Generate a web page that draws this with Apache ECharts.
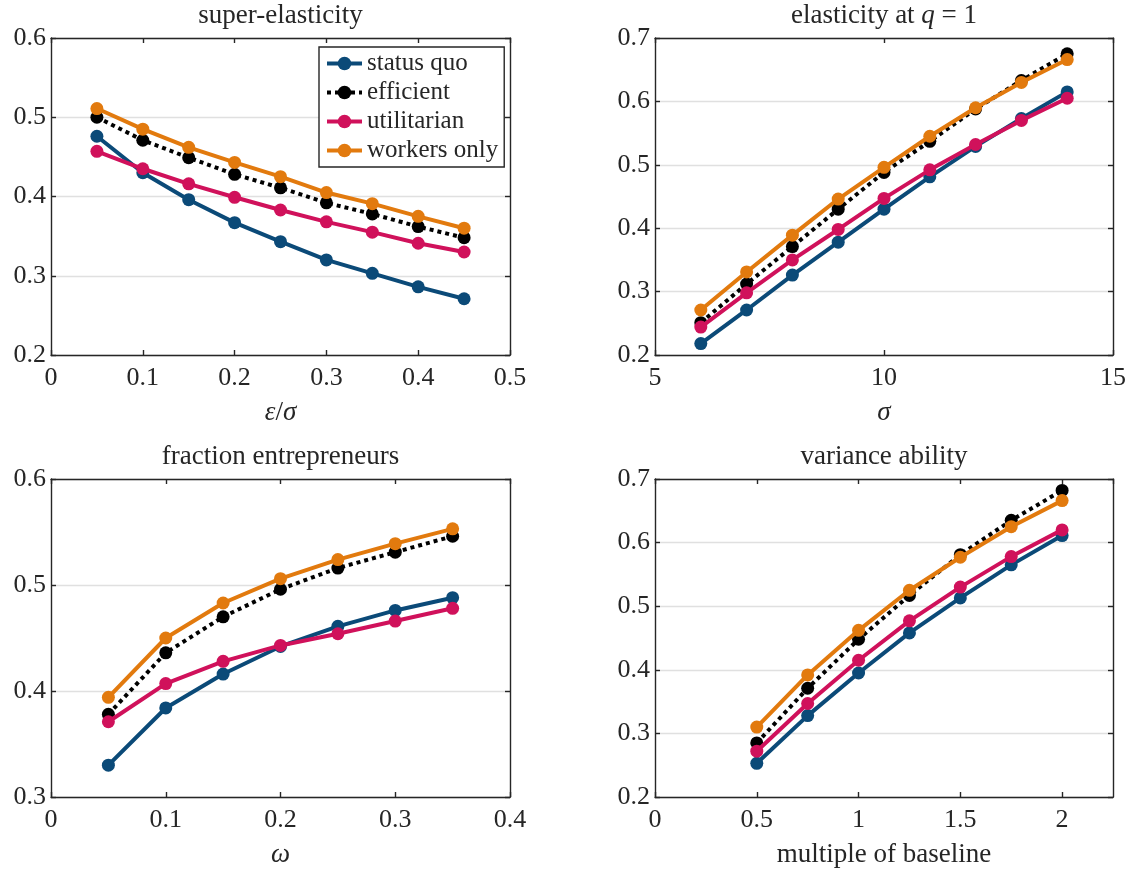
<!DOCTYPE html>
<html>
<head>
<meta charset="utf-8">
<script src="https://cdn.jsdelivr.net/npm/echarts@6/dist/echarts.min.js"></script>
<style>
  html, body { margin: 0; padding: 0; background: #fff; }
  #chart { width: 1133px; height: 871px; }
</style>
</head>
<body>
<div id="chart"></div>
<script>
// x values per panel
const epsX = [0.05, 0.1, 0.15, 0.2, 0.25, 0.3, 0.35, 0.4, 0.45]
const sigmaX = [6, 7, 8, 9, 10, 11, 12, 13, 14]
const omegaX = [0.05, 0.1, 0.15, 0.2, 0.25, 0.3, 0.35]
const multX = [0.5, 0.75, 1, 1.25, 1.5, 1.75, 2]

// super-elasticity
const superStatusQuo = [0.476, 0.430, 0.396, 0.367, 0.343, 0.320, 0.303, 0.286, 0.271]
const superEfficient = [0.500, 0.471, 0.449, 0.428, 0.411, 0.392, 0.378, 0.362, 0.348]
const superUtilitarian = [0.457, 0.435, 0.416, 0.399, 0.383, 0.368, 0.355, 0.341, 0.330]
const superWorkers = [0.511, 0.485, 0.462, 0.443, 0.425, 0.405, 0.391, 0.375, 0.360]

// elasticity at q = 1
const elastStatusQuo = [0.218, 0.271, 0.326, 0.378, 0.430, 0.481, 0.529, 0.573, 0.615]
const elastEfficient = [0.251, 0.312, 0.371, 0.430, 0.488, 0.537, 0.588, 0.633, 0.675]
const elastUtilitarian = [0.244, 0.298, 0.350, 0.398, 0.447, 0.492, 0.532, 0.570, 0.605]
const elastWorkers = [0.271, 0.331, 0.389, 0.446, 0.496, 0.545, 0.590, 0.630, 0.666]

// fraction entrepreneurs
const fracStatusQuo = [0.330, 0.384, 0.416, 0.442, 0.461, 0.476, 0.488]
const fracEfficient = [0.378, 0.436, 0.470, 0.496, 0.516, 0.531, 0.546]
const fracUtilitarian = [0.371, 0.407, 0.428, 0.443, 0.454, 0.466, 0.478]
const fracWorkers = [0.394, 0.450, 0.483, 0.506, 0.524, 0.539, 0.553]

// variance ability
const varStatusQuo = [0.253, 0.328, 0.395, 0.458, 0.513, 0.565, 0.611]
const varEfficient = [0.285, 0.371, 0.448, 0.517, 0.581, 0.635, 0.682]
const varUtilitarian = [0.272, 0.347, 0.415, 0.477, 0.530, 0.578, 0.620]
const varWorkers = [0.310, 0.392, 0.462, 0.525, 0.577, 0.625, 0.666]

const seriesNames = ['status quo', 'efficient', 'utilitarian', 'workers only']
const seriesColors = ['#0B4A78', '#000000', '#D0115B', '#E27A0E']

const FONT = 'Liberation Serif'
const INK = '#262626'
const FS = 27      // titles and axis names
const FS_TICK = 26
const FS_LEG = 25

const panels = [
  { title: 'super-elasticity', xName: '{i|ε}/{i|σ}', xMin: 0, xMax: 0.5, xInt: 0.1, yMin: 0.2, yMax: 0.6,
    x: epsX, ys: [superStatusQuo, superEfficient, superUtilitarian, superWorkers] },
  { title: '{n|elasticity at }{i|q}{n| = 1}', xName: '{i|σ}', xMin: 5, xMax: 15, xInt: 5, yMin: 0.2, yMax: 0.7,
    x: sigmaX, ys: [elastStatusQuo, elastEfficient, elastUtilitarian, elastWorkers] },
  { title: 'fraction entrepreneurs', xName: '{i|ω}', xMin: 0, xMax: 0.4, xInt: 0.1, yMin: 0.3, yMax: 0.6,
    x: omegaX, ys: [fracStatusQuo, fracEfficient, fracUtilitarian, fracWorkers] },
  { title: 'variance ability', xName: 'multiple of baseline', xMin: 0, xMax: 2.25, xInt: 0.5, yMin: 0.2, yMax: 0.7,
    x: multX, ys: [varStatusQuo, varEfficient, varUtilitarian, varWorkers] },
]

const grids = [
  { left: 51, top: 38, width: 459, height: 317 },
  { left: 655, top: 38, width: 458, height: 317 },
  { left: 51, top: 479, width: 459, height: 318 },
  { left: 655, top: 479, width: 458, height: 318 },
]

const richText = {
  n: { fontFamily: FONT, fontSize: FS, color: INK },
  i: { fontFamily: FONT, fontSize: FS, color: INK, fontStyle: 'italic' },
}

const lineOf = { show: true, onZero: false, lineStyle: { color: INK, width: 1.4 } }
const tickIn = { show: true, inside: true, length: 5, lineStyle: { color: INK, width: 1.4 } }

const xAxes = []
const yAxes = []
// bottom / left axes with labels
panels.forEach((p, i) => {
  xAxes.push({
    type: 'value', gridIndex: i, position: 'bottom',
    min: p.xMin, max: p.xMax, interval: p.xInt,
    axisLine: lineOf, axisTick: tickIn, splitLine: { show: false },
    axisLabel: { color: INK, fontFamily: FONT, fontSize: FS_TICK, margin: 10, showMaxLabel: p.xMax !== 2.25 },
    name: p.xName, nameLocation: 'middle', nameGap: 44,
    nameTextStyle: { color: INK, fontFamily: FONT, fontSize: FS, rich: richText },
  })
  yAxes.push({
    type: 'value', gridIndex: i, position: 'left',
    min: p.yMin, max: p.yMax, interval: 0.1,
    axisLine: lineOf, axisTick: tickIn,
    splitLine: { show: true, lineStyle: { color: '#e0e0e0', width: 1.4 } },
    axisLabel: { color: INK, fontFamily: FONT, fontSize: FS_TICK, margin: 5 },
  })
})
// top / right axes: box + inward ticks, title sits on the top axis
panels.forEach((p, i) => {
  xAxes.push({
    type: 'value', gridIndex: i, position: 'top',
    min: p.xMin, max: p.xMax, interval: p.xInt,
    axisLine: lineOf, axisTick: tickIn, splitLine: { show: false },
    axisLabel: { show: false },
    name: p.title.startsWith('{') ? p.title : '{n|' + p.title + '}',
    nameLocation: 'middle', nameGap: 9,
    nameTextStyle: { color: INK, fontFamily: FONT, fontSize: FS, rich: richText },
  })
  yAxes.push({
    type: 'value', gridIndex: i, position: 'right',
    min: p.yMin, max: p.yMax, interval: 0.1,
    axisLine: lineOf, axisTick: tickIn, splitLine: { show: false },
    axisLabel: { show: false },
  })
})

const series = []
panels.forEach((p, i) => {
  p.ys.forEach((vals, k) => {
    const dotted = k === 1
    series.push({
      name: seriesNames[k],
      type: 'line',
      xAxisIndex: i,
      yAxisIndex: i,
      data: p.x.map((xv, j) => [xv, vals[j]]),
      symbol: 'circle',
      symbolSize: 13,
      showSymbol: true,
      color: seriesColors[k],
      itemStyle: { color: seriesColors[k] },
      lineStyle: {
        color: seriesColors[k],
        width: 4,
        type: dotted ? [4, 4] : 'solid',
        cap: 'butt',
      },
      emphasis: { disabled: true },
      z: 2 + k,
    })
  })
})

const chart = echarts.init(document.getElementById('chart'))
chart.setOption({
  animation: false,
  backgroundColor: '#fff',
  grid: grids,
  xAxis: xAxes,
  yAxis: yAxes,
  legend: {
    data: seriesNames,
    orient: 'vertical',
    left: 319,
    top: 47,
    backgroundColor: '#fff',
    borderColor: INK,
    borderWidth: 1.4,
    padding: [4, 6, 4, 6],
    itemGap: 4,
    itemWidth: 35,
    itemHeight: 17,
    lineStyle: { width: 4 },
    selectedMode: false,
    textStyle: { color: INK, fontFamily: FONT, fontSize: FS_LEG },
    z: 20,
  },
  series,
})
</script>
</body>
</html>
